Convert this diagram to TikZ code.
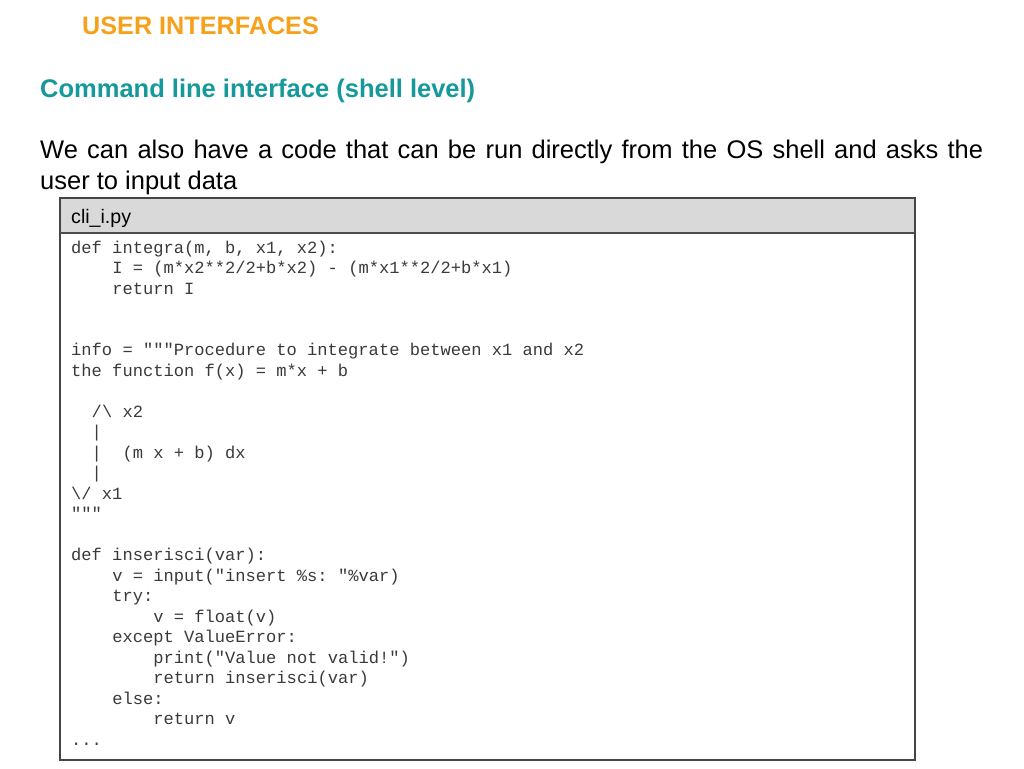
\documentclass[tikz,border=0pt]{standalone}
\usepackage{fontspec}
\setmainfont{Liberation Sans}
\setmonofont{Liberation Mono}
\usetikzlibrary{positioning}
\definecolor{titleorange}{HTML}{F7A11A}
\definecolor{subteal}{HTML}{16999A}
\definecolor{headgray}{HTML}{D9D9D9}
\definecolor{codegray}{HTML}{3A3A3A}
\definecolor{framegray}{HTML}{454545}
\def\cw{10.27}

\tikzset{
  slidetitle/.style={anchor=base west, inner sep=0pt, text=titleorange,
    font=\fontsize{25.2}{30}\selectfont\bfseries},
  subtitle/.style={anchor=base west, inner sep=0pt, text=subteal,
    font=\fontsize{25.5}{31}\selectfont\bfseries},
  bodytext/.style={anchor=base west, inner sep=0pt, text width=943pt, align=justify,
    font=\fontsize{25.5}{31}\selectfont},
  filename/.style={anchor=base west, inner sep=0pt,
    font=\fontsize{19.6}{23}\selectfont},
  codeline/.style={anchor=base west, inner sep=0pt, text=codegray,
    font=\ttfamily\fontsize{17.1}{20.5}\selectfont}
}

\begin{document}
\begin{tikzpicture}[x=1pt,y=-1pt]
  \useasboundingbox[fill=white] (0,0) rectangle (1024,768);
  % heading
  \node[slidetitle] (title) at (82,35) {USER INTERFACES};
  \node[subtitle] (sub) at (40,97) {Command line interface (shell level)};
  \node[bodytext] (intro) at (40,158) {We can also have a code that can be run directly from the OS shell and asks the\linebreak user to input data};
  % code box
  \fill[headgray] (60,198) rectangle (915,233);
  \draw[framegray, line width=1.3pt] (60,198) rectangle (915,760);
  \draw[black!70, line width=2pt] (60,233) -- (915,233);
  \node[filename] (fname) at (71,223) {cli\_i.py};
  % code lines, baseline step 20.5
  \node[codeline] (c1) at (71,253) {def integra(m, b, x1, x2):};
  \node[codeline] (c2) at ({71+4*\cw},273.5) {I = (m*x2**2/2+b*x2) - (m*x1**2/2+b*x1)};
  \node[codeline] (c3) at ({71+4*\cw},294) {return I};
  \node[codeline] (c4) at (71,355.5) {info = """Procedure to integrate between x1 and x2};
  \node[codeline] (c5) at (71,376) {the function f(x) = m*x + b};
  \node[codeline] (c6) at ({71+2*\cw},417) {/\textbackslash\ x2};
  \node[codeline] (c7) at ({71+2*\cw},437.5) {|};
  \node[codeline] (c8) at ({71+2*\cw},458) {|\ \ (m x + b) dx};
  \node[codeline] (c9) at ({71+2*\cw},478.5) {|};
  \node[codeline] (c10) at (71,499) {\textbackslash/ x1};
  \node[codeline] (c11) at (71,519.5) {"""};
  \node[codeline] (c12) at (71,560.5) {def inserisci(var):};
  \node[codeline] (c13) at ({71+4*\cw},581) {v = input("insert \%s: "\%var)};
  \node[codeline] (c14) at ({71+4*\cw},601.5) {try:};
  \node[codeline] (c15) at ({71+8*\cw},622) {v = float(v)};
  \node[codeline] (c16) at ({71+4*\cw},642.5) {except ValueError:};
  \node[codeline] (c17) at ({71+8*\cw},663) {print("Value not valid!")};
  \node[codeline] (c18) at ({71+8*\cw},683.5) {return inserisci(var)};
  \node[codeline] (c19) at ({71+4*\cw},704) {else:};
  \node[codeline] (c20) at ({71+8*\cw},724.5) {return v};
  \node[codeline] (c21) at (71,745) {...};
\end{tikzpicture}
\end{document}
